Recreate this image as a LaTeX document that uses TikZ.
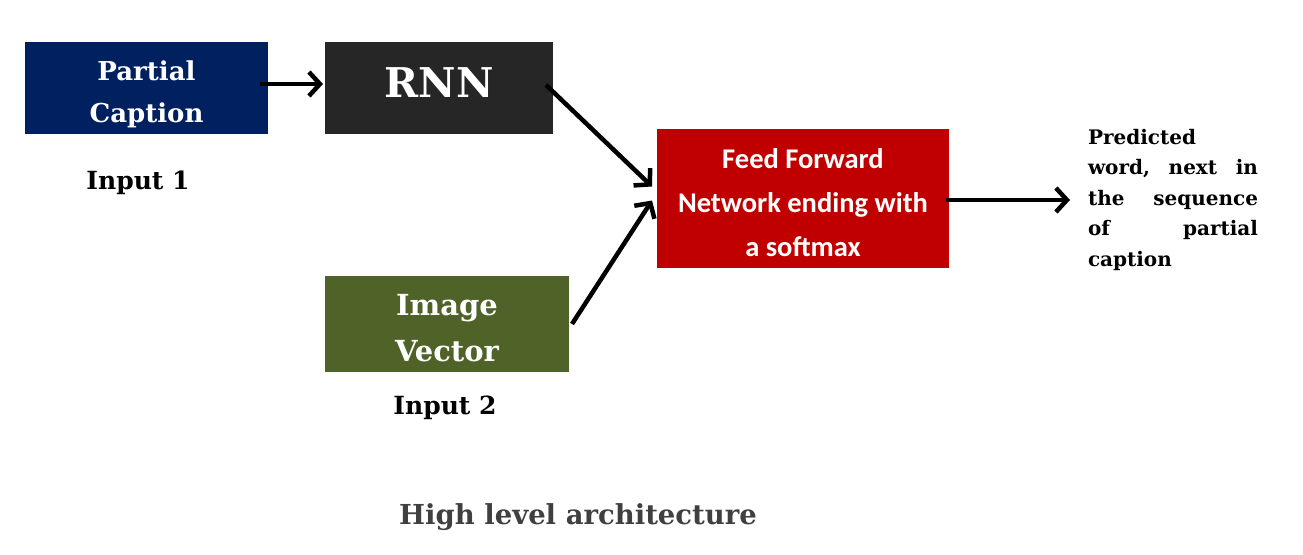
\documentclass[tikz,border=0pt]{standalone}
\usepackage{fontspec}
\setmainfont{DejaVu Serif}
\newfontfamily\ffont{Carlito}
\usetikzlibrary{positioning,arrows.meta}
\definecolor{capblue}{RGB}{0,32,96}
\definecolor{rnngray}{RGB}{38,38,38}
\definecolor{imgreen}{RGB}{79,98,40}
\definecolor{ffred}{RGB}{192,0,0}
\definecolor{titlegray}{RGB}{64,64,64}

\begin{document}
\begin{tikzpicture}[x=1pt,y=-1pt,
    every node/.style={inner sep=0pt,outer sep=0pt,font=\bfseries},
    block/.style={text=white,align=center,anchor=center},
    label/.style={text=black},
    link/.style={line width=4.5pt,-{Straight Barb[length=11pt,width=24pt,line width=4.5pt]}},
    node distance=2cm
    ]
    \useasboundingbox (0,0) rectangle (1303,554);

    \node (pc) [block,fill=capblue,minimum width=243pt,minimum height=92pt,
      font=\bfseries\fontsize{26}{42}\selectfont] at (146.5,88) {\rule{0pt}{32pt}Partial\\Caption};
    \node (rnn) [block,fill=rnngray,minimum width=228pt,minimum height=92pt,
      font=\bfseries\fontsize{41}{44}\selectfont] at (439,88) {\rule[-10pt]{0pt}{10pt}RNN};
    \node (iv) [block,fill=imgreen,minimum width=244pt,minimum height=96pt,
      font=\bfseries\fontsize{29}{46}\selectfont] at (447,324) {\rule{0pt}{29pt}Image\\Vector};
    \node (ff) [block,fill=ffred,minimum width=292pt,minimum height=139pt,
      font=\ffont\bfseries\fontsize{28.5}{44}\selectfont] at (803,198.5)
      {\rule{0pt}{28pt}Feed Forward\\Network ending with\\a softmax};
    \node (out) [label,anchor=north west,text width=170pt,align=left,
      font=\bfseries\fontsize{20}{30.5}\selectfont] at (1088,129)
      {Predicted\\word,\hfill next\hfill in\\the\hfill sequence\\of\hfill partial\\caption};

    \node (in1) [label,font=\bfseries\fontsize{25}{28}\selectfont] at (138,183) {Input 1};
    \node (in2) [label,font=\bfseries\fontsize{25}{28}\selectfont] at (445,408) {Input 2};
    \node (title) [label,text=titlegray,font=\bfseries\fontsize{27.5}{30}\selectfont] at (578,517)
      {High level architecture};

    % the arrows
    \draw[link] ([xshift=-8pt,yshift=4pt]pc.east) -- ([xshift=-2pt,yshift=4pt]rnn.west);
    \draw[link] ([xshift=-7pt,yshift=3pt]rnn.east) -- ([xshift=-5pt,yshift=12pt]ff.west);
    \draw[link] ([xshift=3pt]iv.east) -- ([xshift=-5pt,yshift=-2pt]ff.west);
    \draw[link] ([xshift=-3pt,yshift=-1.5pt]ff.east) -- ++(124,0);
\end{tikzpicture}
\end{document}
